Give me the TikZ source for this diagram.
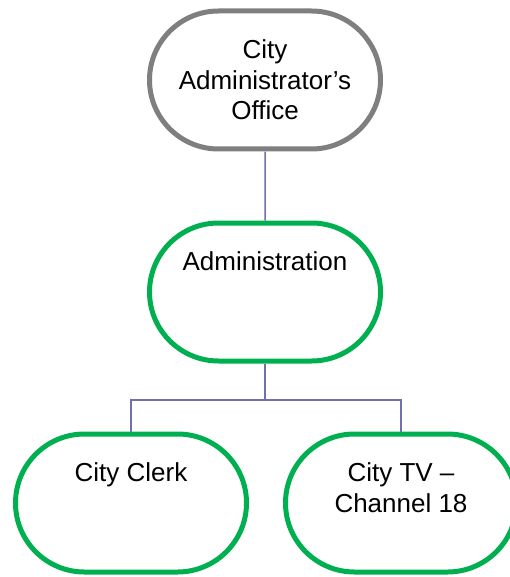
\documentclass[tikz,border=0pt]{standalone}
\usepackage{fontspec}
\setmainfont{Liberation Sans}
\usepackage{tikz}
\usetikzlibrary{shapes.misc, positioning}
\definecolor{ocGreen}{HTML}{00B050}
\definecolor{ocGray}{HTML}{7F7F7F}
\definecolor{ocLink}{HTML}{7070AA}

\begin{document}
\begin{tikzpicture}[x=1pt, y=-1pt,
  %% --- Node styles ---
  unitbox/.style={
    rounded rectangle,
    minimum width=231pt, minimum height=138pt,
    align=center, inner sep=0pt,
    font=\fontsize{26}{30.5}\selectfont,
    fill=white, draw=ocGreen, line width=5pt
  },
  headbox/.style={unitbox, draw=ocGray},
  %% --- Connector style ---
  link/.style={line width=1.5pt, draw=ocLink}
]
\useasboundingbox (0,0) rectangle (509,577);

%% =========================================================
%% NODES
%% =========================================================
\node (office) [headbox] at (265,80) {City\\Administrator’s\\Office};
\node (admin)  [unitbox, below=69pt of office] {Administration\\~\\~};
\node (clerk)  [unitbox, below=68pt of admin, xshift=-134pt] {City Clerk\\~\\~};
\node (citytv) [unitbox, below=68pt of admin, xshift=136pt] {City TV –\\Channel 18\\~};

%% =========================================================
%% CONNECTORS
%% =========================================================
\draw[link] (office) -- (admin);
\draw[link] (admin.south) -- ++(0,36.5) coordinate (bus) -| (clerk.north);
\draw[link] (bus) -| (citytv.north);

\end{tikzpicture}
\end{document}
